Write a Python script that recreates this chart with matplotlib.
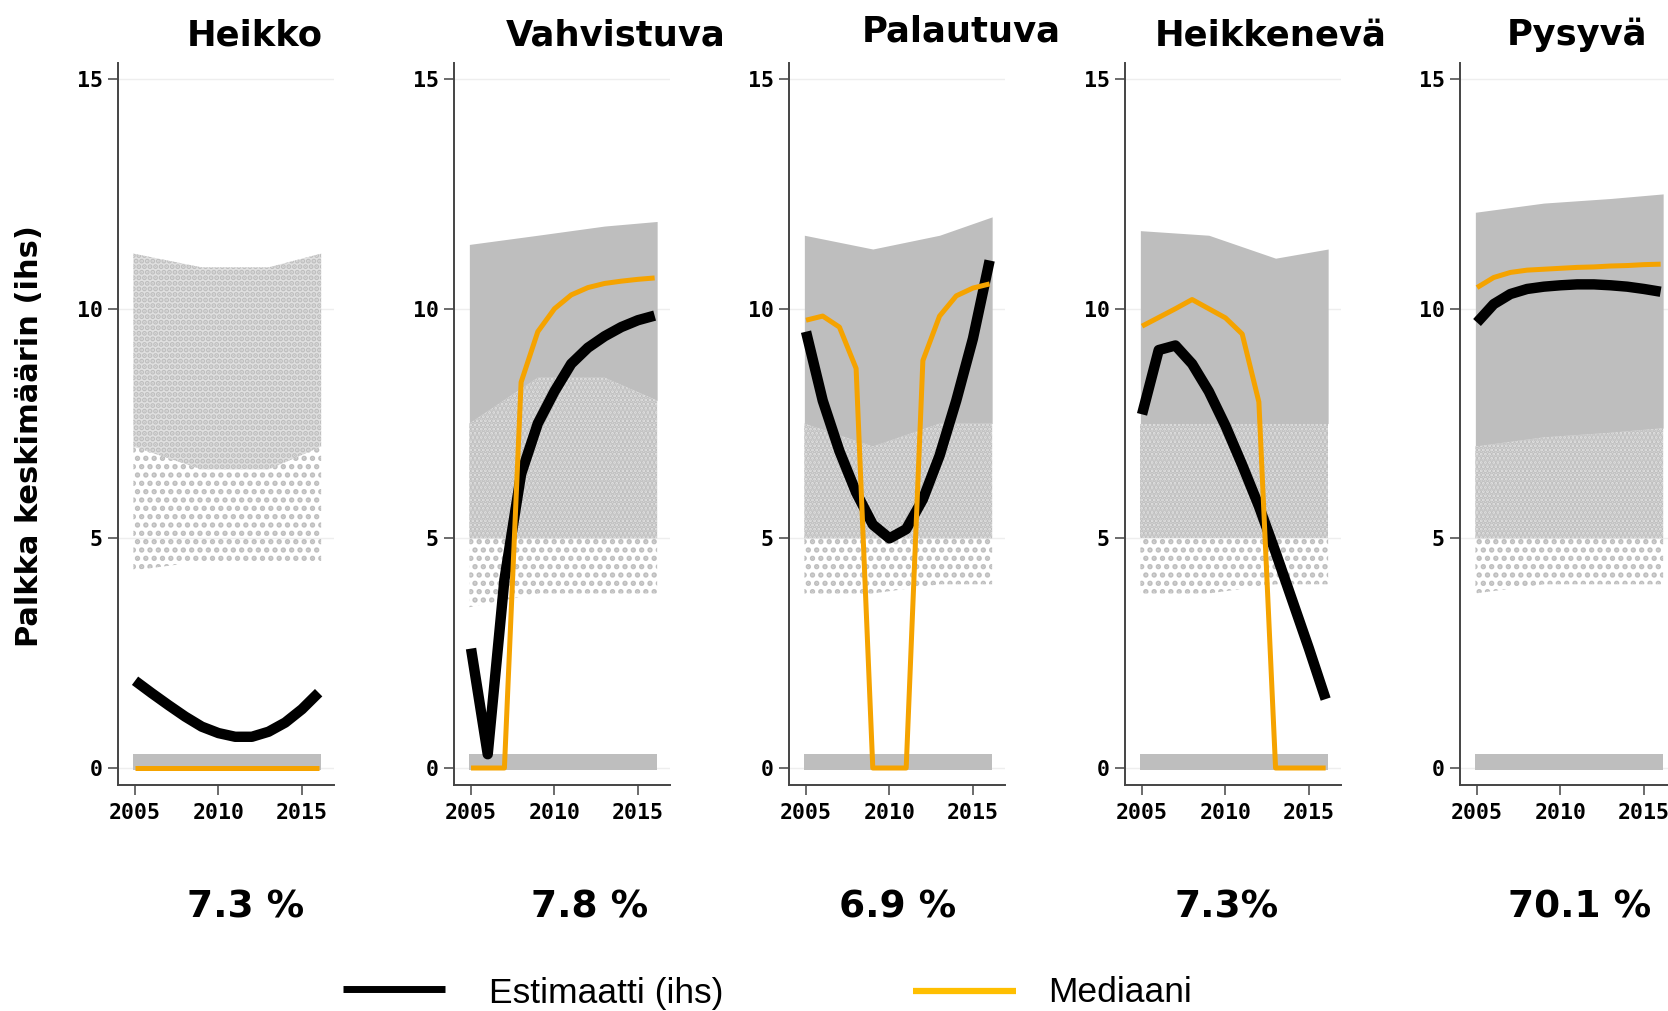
import matplotlib
matplotlib.use("Agg")
import matplotlib.pyplot as plt
from matplotlib.lines import Line2D

# data
titles = ["Heikko", "Vahvistuva", "Palautuva", "Heikkenevä", "Pysyvä"]
shares = ["7.3 %", "7.8 %", "6.9 %", "7.3%", "70.1 %"]
years = [2005, 2006, 2007, 2008, 2009, 2010, 2011, 2012, 2013, 2014, 2015, 2016]

est_heikko = [1.9, 1.63, 1.37, 1.12, 0.9, 0.76, 0.68, 0.68, 0.79, 0.99, 1.28, 1.64]
est_vahvistuva = [2.6, 0.3, 4.1, 6.4, 7.5, 8.2, 8.8, 9.15, 9.4, 9.6, 9.75, 9.85]
est_palautuva = [9.5, 8.0, 6.9, 6.0, 5.3, 5.0, 5.2, 5.85, 6.8, 8.0, 9.35, 11.05]
est_heikkeneva = [7.7, 9.1, 9.2, 8.8, 8.2, 7.45, 6.6, 5.7, 4.7, 3.65, 2.6, 1.5]
est_pysyva = [9.7, 10.1, 10.32, 10.43, 10.48, 10.51, 10.53, 10.53, 10.51, 10.48, 10.43, 10.37]

med_heikko = [0, 0, 0, 0, 0, 0, 0, 0, 0, 0, 0, 0]
med_vahvistuva = [0, 0, 0, 8.4, 9.5, 10.0, 10.3, 10.46, 10.55, 10.6, 10.64, 10.67]
med_palautuva = [9.75, 9.84, 9.6, 8.7, 0, 0, 0, 8.87, 9.84, 10.28, 10.45, 10.54]
med_heikkeneva = [9.62, 9.81, 10.0, 10.2, 10.0, 9.8, 9.45, 7.97, 0, 0, 0, 0]
med_pysyva = [10.46, 10.68, 10.79, 10.84, 10.86, 10.88, 10.9, 10.91, 10.93, 10.94, 10.96, 10.97]

# rough envelope of the individual observations (grey cloud)
env_x = [2004.9, 2009, 2013, 2016.15]
top_heikko = [11.2, 10.9, 10.9, 11.2]
top_vahvistuva = [11.4, 11.6, 11.8, 11.9]
top_palautuva = [11.6, 11.3, 11.6, 12.0]
top_heikkeneva = [11.7, 11.6, 11.1, 11.3]
top_pysyva = [12.1, 12.3, 12.4, 12.5]

dense_heikko = [7.0, 6.5, 6.5, 7.0]
dense_vahvistuva = [7.5, 8.5, 8.5, 8.0]
dense_palautuva = [7.5, 7.0, 7.5, 7.5]
dense_heikkeneva = [7.5, 7.5, 7.5, 7.5]
dense_pysyva = [7.0, 7.2, 7.3, 7.4]

mid_heikko = [4.3, 4.5, 4.5, 4.5]
mid_vahvistuva = [5.0, 5.0, 5.0, 5.0]
mid_palautuva = [5.0, 5.0, 5.0, 5.0]
mid_heikkeneva = [5.0, 5.0, 5.0, 5.0]
mid_pysyva = [5.0, 5.0, 5.0, 5.0]

low_vahvistuva = [3.5, 3.8, 3.8, 3.8]
low_palautuva = [3.8, 3.8, 4.0, 4.0]
low_heikkeneva = [3.8, 3.8, 4.0, 4.0]
low_pysyva = [3.8, 4.0, 4.0, 4.0]

zero_band = [-0.05, 0.3]

estimates = [est_heikko, est_vahvistuva, est_palautuva, est_heikkeneva, est_pysyva]
medians = [med_heikko, med_vahvistuva, med_palautuva, med_heikkeneva, med_pysyva]
tops = [top_heikko, top_vahvistuva, top_palautuva, top_heikkeneva, top_pysyva]
denses = [dense_heikko, dense_vahvistuva, dense_palautuva, dense_heikkeneva, dense_pysyva]
mids = [mid_heikko, mid_vahvistuva, mid_palautuva, mid_heikkeneva, mid_pysyva]
lows = [None, low_vahvistuva, low_palautuva, low_heikkeneva, low_pysyva]

GREY = "#bebebe"
TINT = "#e0e0e0"
ORANGE = "#f5a300"
AXC = "#444444"

plt.rcParams['hatch.linewidth'] = 2.6

fig = plt.figure(figsize=(16.68, 10.11), dpi=100)
W, H = 1668, 1011

ax_left = [118, 454, 789, 1125, 1460]
title_x = [255, 616, 961, 1271, 1577]
title_y = [45, 45, 41, 45, 45]
share_x = [246, 590, 898, 1227, 1580]

for i in range(5):
    ax = fig.add_axes([ax_left[i] / W, (H - 785) / H, 216 / W, 722 / H])
    ax.set_xlim(2003.98, 2016.92)
    ax.set_ylim(-0.37, 15.35)

    # grey cloud
    if i == 0:
        ax.fill_between(env_x, denses[i], tops[i], facecolor=TINT,
                        edgecolor=GREY, hatch="...", linewidth=0, zorder=1)
        ax.fill_between(env_x, mids[i], denses[i], facecolor="none",
                        edgecolor=GREY, hatch="..", linewidth=0, zorder=1)
    else:
        ax.fill_between(env_x, denses[i], tops[i], color=GREY, linewidth=0, zorder=1)
        ax.fill_between(env_x, mids[i], denses[i], facecolor=TINT,
                        edgecolor=GREY, hatch="....", linewidth=0, zorder=1)
        ax.fill_between(env_x, lows[i], mids[i], facecolor="none",
                        edgecolor=GREY, hatch="..", linewidth=0, zorder=1)
    ax.fill_between([env_x[0], env_x[-1]], zero_band[0], zero_band[1],
                    color=GREY, linewidth=0, zorder=1)

    ax.plot(years, estimates[i], color="black", lw=7.5, solid_capstyle="butt",
            solid_joinstyle="round", zorder=3)
    ax.plot(years, medians[i], color=ORANGE, lw=3.6, solid_capstyle="butt",
            solid_joinstyle="round", zorder=4)

    ax.set_yticks([0, 5, 10, 15])
    ax.set_xticks([2005, 2010, 2015])
    ax.grid(axis="y", color="#eeeeee", lw=1, zorder=0)
    ax.set_axisbelow(True)
    for s in ["top", "right"]:
        ax.spines[s].set_visible(False)
    for s in ["left", "bottom"]:
        ax.spines[s].set_color(AXC)
        ax.spines[s].set_linewidth(1.4)
    ax.tick_params(length=7, width=1.1, color=AXC, labelsize=15.5)
    ax.tick_params(axis="y", pad=4)
    ax.tick_params(axis="x", pad=6)
    for lab in ax.get_xticklabels() + ax.get_yticklabels():
        lab.set_family("DejaVu Sans Mono")
        lab.set_fontweight("bold")
    ax.patch.set_alpha(0)

    fig.text(title_x[i] / W, 1 - title_y[i] / H, titles[i], ha="center",
             va="baseline", fontsize=25.5, fontweight="bold")
    fig.text(share_x[i] / W, 1 - 917 / H, shares[i], ha="center",
             va="baseline", fontsize=27, fontweight="bold")

fig.text(30 / W, 1 - 436 / H, "Palkka keskimäärin (ihs)", rotation=90,
         ha="center", va="center", fontsize=22, fontweight="bold")

# legend
fig.add_artist(Line2D([343 / W, 445 / W], [1 - 989 / H, 1 - 989 / H],
                      color="black", lw=5, solid_capstyle="butt"))
fig.add_artist(Line2D([913 / W, 1016 / W], [1 - 991 / H, 1 - 991 / H],
                      color="#ffbf00", lw=4.5, solid_capstyle="butt"))
fig.text(489 / W, 1 - 993 / H, "Estimaatti (ihs)", ha="left", va="center",
         fontsize=25.5, family="Liberation Sans")
fig.text(1048 / W, 1 - 993 / H, "Mediaani", ha="left", va="center",
         fontsize=25.5, family="Liberation Sans")

fig.savefig("out.png", dpi=100)
